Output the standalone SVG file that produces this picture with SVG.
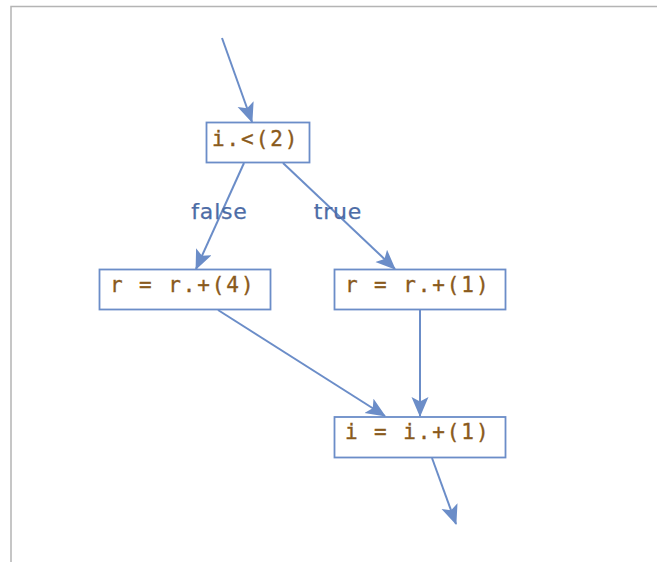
<svg xmlns="http://www.w3.org/2000/svg" width="657" height="562" viewBox="0 0 657 562">
  <style>
    .frame { fill: none; stroke: #b4b4b4; stroke-width: 1.5; }
    .box { fill: #ffffff; stroke: #6b8dc8; stroke-width: 1.8; }
    .code { font-family: "DejaVu Sans Mono", "Liberation Mono", monospace; font-size: 21px; letter-spacing: 1.9px; fill: #8a5a1c; stroke: #8a5a1c; stroke-width: 0.35; }
    .edge { fill: none; stroke: #6b8dc8; stroke-width: 2; marker-end: url(#arrow); }
    .lbl { font-family: "DejaVu Sans", Verdana, sans-serif; font-size: 22px; letter-spacing: 0.8px; fill: #4d6ca6; stroke: #4d6ca6; stroke-width: 0.25; text-anchor: middle; }
  </style>
  <defs>
    <marker id="arrow" markerUnits="userSpaceOnUse" markerWidth="22" markerHeight="18" refX="19" refY="8.5" orient="auto">
      <path d="M0,0 L20,8.5 L0,17 L4.5,8.5 z" fill="#6b8dc8"/>
    </marker>
  </defs>

  <rect width="657" height="562" fill="#ffffff"/>
  <path class="frame" d="M11,562 L11,6.5 L657,6.5"/>

  <g id="connectors">
    <line class="edge" x1="222" y1="38" x2="252" y2="122"/>
    <line class="edge" x1="244" y1="163" x2="196" y2="269"/>
    <line class="edge" x1="283" y1="163" x2="395" y2="269"/>
    <line class="edge" x1="218" y1="310" x2="385" y2="416"/>
    <line class="edge" x1="420" y1="310" x2="420" y2="416"/>
    <line class="edge" x1="432" y1="458" x2="456" y2="524"/>
    <text class="lbl" x="219.5" y="219">false</text>
    <text class="lbl" x="338" y="219">true</text>
  </g>

  <g id="cond">
    <rect class="box" x="206.5" y="122.5" width="103" height="40"/>
    <text class="code" x="212" y="146">i.&lt;(2)</text>
  </g>
  <g id="add4">
    <rect class="box" x="99.5" y="269.5" width="171" height="40"/>
    <text class="code" x="110" y="292">r = r.+(4)</text>
  </g>
  <g id="add1">
    <rect class="box" x="334.5" y="269.5" width="171" height="40"/>
    <text class="code" x="345" y="292">r = r.+(1)</text>
  </g>
  <g id="inc">
    <rect class="box" x="334.5" y="417" width="171" height="40.5"/>
    <text class="code" x="345" y="439">i = i.+(1)</text>
  </g>
</svg>
